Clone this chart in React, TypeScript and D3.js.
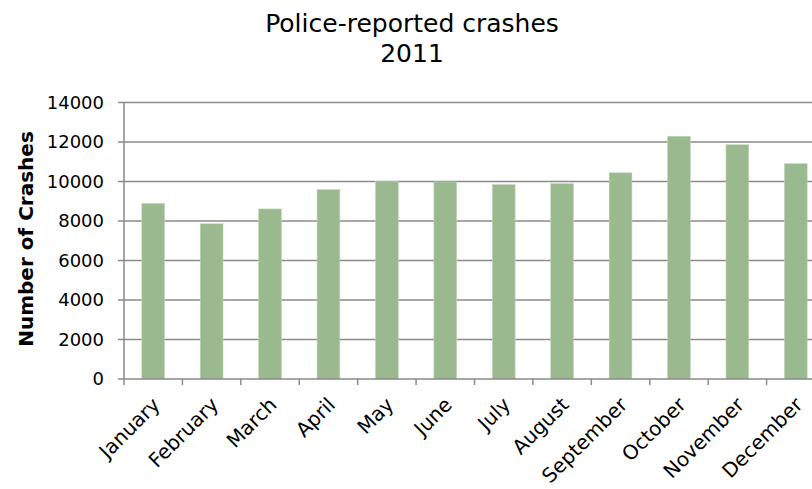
import React from "react";
import * as d3 from "d3";

const months = ["January","February","March","April","May","June","July","August","September","October","November","December"];
const crashes = [8890, 7860, 8610, 9590, 9990, 9980, 9840, 9890, 10440, 12290, 11860, 10900];
const yTicks = [0, 2000, 4000, 6000, 8000, 10000, 12000, 14000];
const titleLines = ["Police-reported crashes", "2011"];
const yLabel = "Number of Crashes";

const W = 812, H = 489;
const left = 124, right = 825, top = 102.5, bottom = 379;

export default function App() {
  const x = d3.scaleBand<string>().domain(months).range([left, right]).paddingInner(0).paddingOuter(0);
  const y = d3.scaleLinear().domain([0, 14000]).range([bottom, top]);
  const bw = x.bandwidth() * 0.39;
  const font = "'DejaVu Sans', Verdana, sans-serif";
  const grid = "#8a8a8a";
  return (
    <svg width={W} height={H} style={{ position: "absolute", left: 0, top: 0, background: "#fff" }} fontFamily={font}>
      {titleLines.map((t, i) => (
        <text key={t} x={412} y={32 + i * 30} textAnchor="middle" fontSize={25} fill="#000">{t}</text>
      ))}
      {yTicks.map(v => (
        <g key={v}>
          {v > 0 && <line x1={left} x2={W} y1={y(v)} y2={y(v)} stroke={grid} strokeWidth={1.5} />}
          <line x1={left - 6} x2={left} y1={y(v)} y2={y(v)} stroke={grid} strokeWidth={1.5} />
          <text x={left - 20} y={y(v)} dy="0.36em" textAnchor="end" fontSize={18} fill="#000">{v}</text>
        </g>
      ))}
      {months.map((m, i) => (
        <rect key={m} x={(x(m) as number) + (x.bandwidth() - bw) / 2} y={y(crashes[i])} width={bw} height={bottom - y(crashes[i])} fill="#9bb98f" stroke="#c2d6b9" strokeWidth={0.6} />
      ))}
      <line x1={left} x2={left} y1={top} y2={bottom} stroke={grid} strokeWidth={1.5} />
      <line x1={left} x2={W} y1={bottom} y2={bottom} stroke={grid} strokeWidth={1.5} />
      {months.map(m => (
        <line key={m} x1={x(m) as number} x2={x(m) as number} y1={bottom} y2={bottom + 6} stroke={grid} strokeWidth={1.5} />
      ))}
      {months.map(m => {
        const cx = (x(m) as number) + x.bandwidth() / 2 + 8;
        const cy = bottom + 27;
        return (
          <text key={m} x={cx} y={cy} textAnchor="end" fontSize={20} fill="#000" transform={`rotate(-45 ${cx} ${cy})`}>{m}</text>
        );
      })}
      <text x={0} y={0} transform={`translate(33 239) rotate(-90)`} textAnchor="middle" fontSize={20} fontWeight="bold" fill="#000">{yLabel}</text>
    </svg>
  );
}
